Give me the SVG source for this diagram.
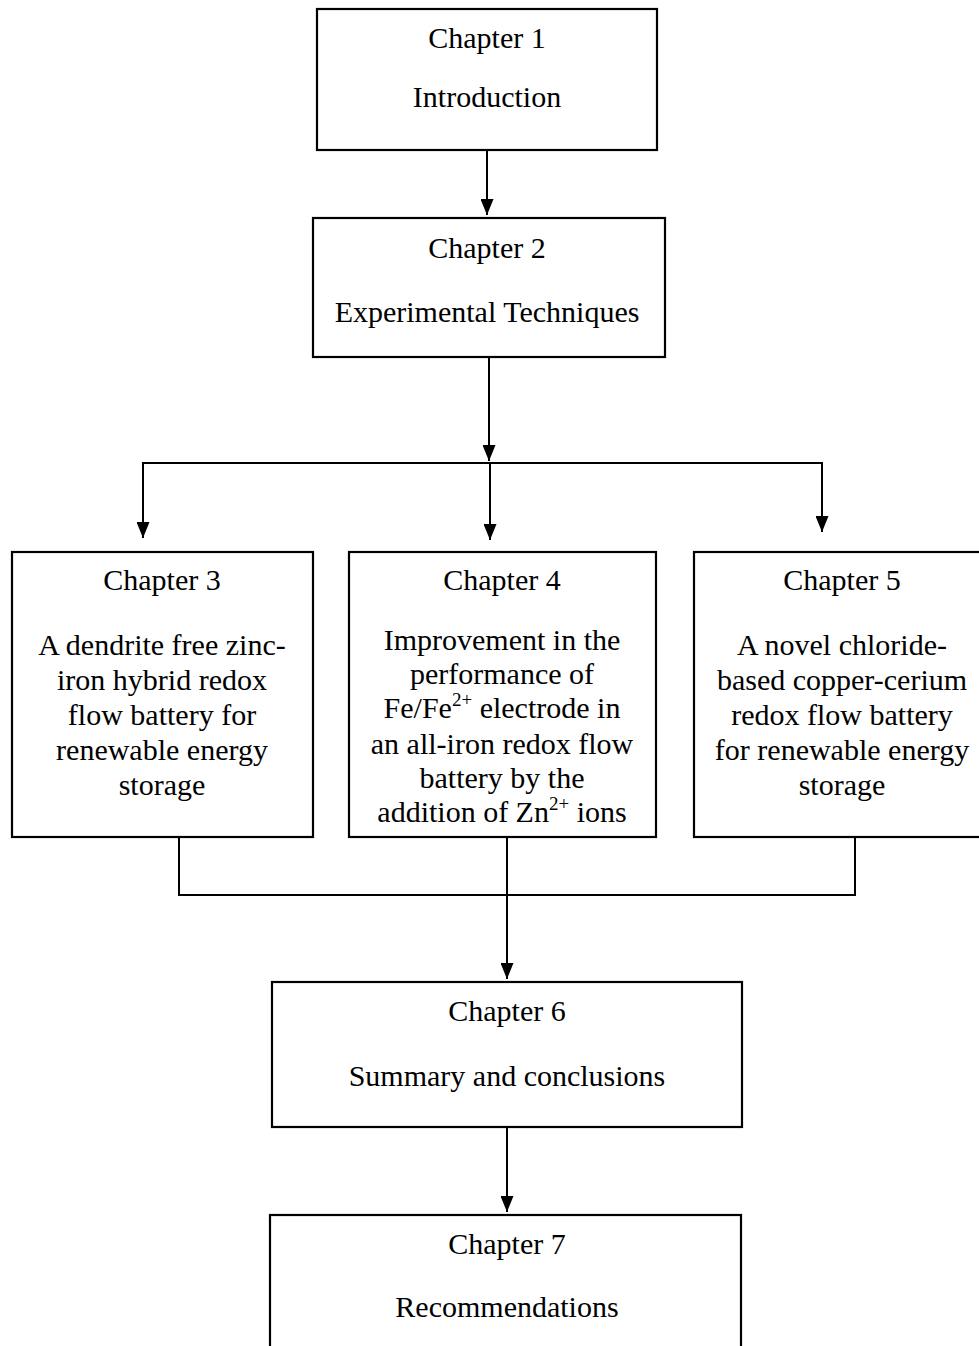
<svg xmlns="http://www.w3.org/2000/svg" width="979" height="1346" viewBox="0 0 979 1346">
  <style>
    .box { fill: #fff; stroke: #000; stroke-width: 2.2; }
    text { font-family: 'Liberation Serif', 'Times New Roman', Times, serif; font-size: 30px; fill: #000; text-anchor: middle; }
    .sup { font-size: 19px; }
    .wire { fill: none; stroke: #000; stroke-width: 2; }
  </style>
  <defs>
    <marker id="arrow" viewBox="0 0 16 13" refX="16" refY="6.5" markerWidth="16" markerHeight="13" markerUnits="userSpaceOnUse" orient="auto">
      <path d="M0,0 L16,6.5 L0,13 Z" fill="#000"/>
    </marker>
  </defs>

  <g id="connectors">
    <line class="wire" x1="487" y1="150" x2="487" y2="215" marker-end="url(#arrow)"/>
    <line class="wire" x1="489" y1="357" x2="489" y2="461" marker-end="url(#arrow)"/>
    <polyline class="wire" points="143,463 822,463"/>
    <line class="wire" x1="143" y1="462" x2="143" y2="538" marker-end="url(#arrow)"/>
    <line class="wire" x1="490" y1="463" x2="490" y2="540" marker-end="url(#arrow)"/>
    <line class="wire" x1="822" y1="462" x2="822" y2="532" marker-end="url(#arrow)"/>
    <polyline class="wire" points="179,837 179,895 855,895 855,837"/>
    <line class="wire" x1="507" y1="837" x2="507" y2="979" marker-end="url(#arrow)"/>
    <line class="wire" x1="507" y1="1127" x2="507" y2="1212" marker-end="url(#arrow)"/>
  </g>

  <g id="chapter1">
    <rect class="box" x="317" y="9" width="340" height="141"/>
    <text x="487" y="48">Chapter 1</text>
    <text x="487" y="107">Introduction</text>
  </g>

  <g id="chapter2">
    <rect class="box" x="313" y="218" width="352" height="139"/>
    <text x="487" y="258">Chapter 2</text>
    <text x="487" y="322">Experimental Techniques</text>
  </g>

  <g id="chapter3">
    <rect class="box" x="12" y="552" width="301" height="285"/>
    <text x="162" y="590">Chapter 3</text>
    <text x="162" y="655">A dendrite free zinc-</text>
    <text x="162" y="690">iron hybrid redox</text>
    <text x="162" y="725">flow battery for</text>
    <text x="162" y="760">renewable energy</text>
    <text x="162" y="795">storage</text>
  </g>

  <g id="chapter4">
    <rect class="box" x="349" y="552" width="307" height="285"/>
    <text x="502" y="590">Chapter 4</text>
    <text x="502" y="650">Improvement in the</text>
    <text x="502" y="684">performance of</text>
    <text x="502" y="718">Fe/Fe<tspan class="sup" dy="-12">2+</tspan><tspan dy="12"> electrode in</tspan></text>
    <text x="502" y="754">an all-iron redox  flow</text>
    <text x="502" y="788">battery by the</text>
    <text x="502" y="822">addition of Zn<tspan class="sup" dy="-12">2+</tspan><tspan dy="12"> ions</tspan></text>
  </g>

  <g id="chapter5">
    <rect class="box" x="694" y="552" width="290" height="285"/>
    <text x="842" y="590">Chapter 5</text>
    <text x="842" y="655">A novel chloride-</text>
    <text x="842" y="690">based copper-cerium</text>
    <text x="842" y="725">redox flow battery</text>
    <text x="842" y="760">for renewable energy</text>
    <text x="842" y="795">storage</text>
  </g>

  <g id="chapter6">
    <rect class="box" x="272" y="982" width="470" height="145"/>
    <text x="507" y="1021">Chapter 6</text>
    <text x="507" y="1086">Summary and conclusions</text>
  </g>

  <g id="chapter7">
    <rect class="box" x="270" y="1215" width="471" height="140"/>
    <text x="507" y="1254">Chapter 7</text>
    <text x="507" y="1317">Recommendations</text>
  </g>
</svg>
